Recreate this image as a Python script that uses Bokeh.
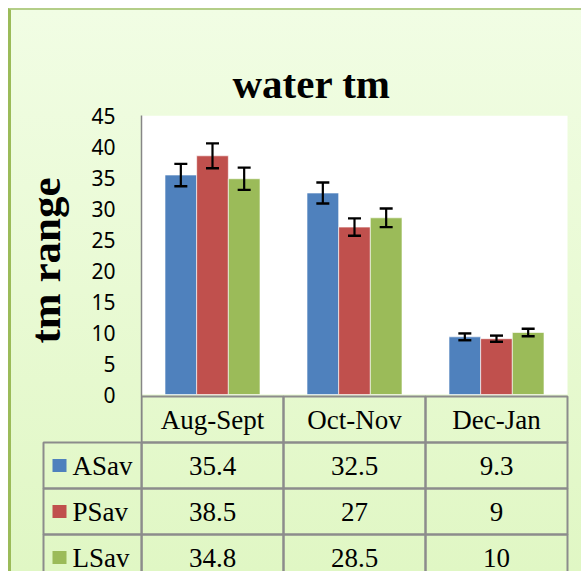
import math
from bokeh.plotting import figure
from bokeh.models import Range1d, FixedTicker, BoxAnnotation
from bokeh.layouts import column
from bokeh.embed import file_html
from bokeh.resources import INLINE
from bokeh.core.properties import value

# ---- data ----
periods = ["Aug-Sept", "Oct-Nov", "Dec-Jan"]
series = ["ASav", "PSav", "LSav"]
asav = [35.4, 32.5, 9.3]
psav = [38.5, 27, 9]
lsav = [34.8, 28.5, 10]
asav_err = [1.8, 1.7, 0.55]
psav_err = [2.0, 1.4, 0.5]
lsav_err = [1.8, 1.5, 0.6]
y_ticks = [0, 5, 10, 15, 20, 25, 30, 35, 40, 45]
colors = ["#4F81BD", "#C0504D", "#9BBB59"]
title_text = "water tm"
y_title = "tm range"

values = [asav, psav, lsav]
errors = [asav_err, psav_err, lsav_err]

SERIF = "Liberation Serif"
GRID = "#8C8C8C"

# ---- layout constants (pixels) ----
W, H = 570, 561
chart_px = 279.0      # height of the 0..45 plot area
table_px = 177.0      # visible height of the data table under it
cat_px = 142.0        # width of one category column
label_px = 98.0       # width of the series-name column
row_px = 46.0
pad_px = 2.0
y_max = y_ticks[-1]
u = y_max / chart_px  # data units per pixel (vertical)
L = label_px / cat_px

p = figure(x_range=Range1d(0, len(periods) + pad_px / cat_px),
           y_range=Range1d(-y_max * table_px / chart_px, y_max),
           width=W, height=H, output_backend="svg", toolbar_location=None,
           x_axis_location=None, min_border_left=130, min_border_right=12,
           min_border_top=105, min_border_bottom=0)
p.background_fill_alpha = 0
p.border_fill_alpha = 0
p.outline_line_color = None
p.grid.visible = False

# white plot area for the chart part
p.add_layout(BoxAnnotation(bottom=0, top=y_max, left=0, right=len(periods),
                           fill_color="white", fill_alpha=1,
                           line_color=None, level="underlay"))

p.title.text = title_text
p.title.text_font = SERIF
p.title.text_font_style = "bold"
p.title.text_font_size = "41px"
p.title.align = "left"
p.title.offset = 91
p.title.standoff = 17
p.title.text_color = "black"

ax = p.yaxis[0]
ax.ticker = FixedTicker(ticks=y_ticks)
ax.major_tick_out = 0
ax.major_tick_in = 0
ax.minor_tick_out = 0
ax.minor_tick_in = 0
ax.major_label_standoff = 26
ax.major_label_text_font = "Noto Sans"
ax.major_label_text_font_size = "21px"
ax.major_label_text_color = "black"
ax.axis_line_color = "#868686"
ax.axis_line_width = 1.5

# rotated y-axis title, placed left of the tick labels
p.text(x=[-96.0 / cat_px], y=[51.0 * u], text=[y_title], angle=math.pi / 2,
       text_align="left", text_baseline="alphabetic",
       text_font=value(SERIF), text_font_style="bold",
       text_font_size="43px", text_color="black", level="overlay")

# ---- bars + error bars ----
cx = [i + 0.5 for i in range(len(periods))]
bar_w = 0.223
offsets = [-bar_w, 0.0, bar_w]
for name, vals, errs, col, off in zip(series, values, errors, colors, offsets):
    xs = [c + off for c in cx]
    lo = [v - e for v, e in zip(vals, errs)]
    hi = [v + e for v, e in zip(vals, errs)]
    p.vbar(x=xs, top=vals, width=bar_w, fill_color=col,
           line_color="white", line_alpha=0.6, line_width=1)
    p.segment(x0=xs, y0=lo, x1=xs, y1=hi, line_color="black", line_width=2.2)
    p.scatter(x=xs, y=hi, marker="dash", size=13, line_color="black", line_width=2.4)
    p.scatter(x=xs, y=lo, marker="dash", size=13, line_color="black", line_width=2.4)

# ---- data table ----
def row_center(r):
    return -(pad_px + (r + 0.5) * row_px) * u

row_h = row_px * u
txt = dict(text_baseline="middle", text_font=value(SERIF),
           text_font_size="27px", text_color="black")

y0 = row_center(0)
p.rect(x=cx, y=[y0] * 3, width=1, height=row_h, fill_alpha=0,
       line_color=GRID, line_width=2)
p.text(x=cx, y=[y0] * 3, text=periods, text_align="center", **txt)

key_x = -L + 16.0 / cat_px
for r, (name, vals, col) in enumerate(zip(series, values, colors), start=1):
    yc = row_center(r)
    p.rect(x=cx, y=[yc] * 3, width=1, height=row_h, fill_alpha=0,
           line_color=GRID, line_width=2)
    p.text(x=cx, y=[yc] * 3, text=[f"{v:g}" for v in vals],
           text_align="center", **txt)
    # series-name column (left of the plot frame)
    p.rect(x=[-L / 2], y=[yc], width=L, height=row_h, fill_alpha=0,
           line_color=GRID, line_width=2, level="overlay")
    p.rect(x=[key_x], y=[yc], width=14, height=13, width_units="screen",
           height_units="screen", fill_color=col, line_color=None,
           level="overlay")
    p.text(x=[-L], y=[yc], text=[name], x_offset=29, text_align="left",
           level="overlay", **txt)

layout = column(p, spacing=0, margin=(8, 0, 0, 8), styles={
    "background": "linear-gradient(to bottom, #f1fde4 0%, #e9fad4 50%, #e0f7c4 100%)",
    "border-left": "3px solid #9BBB59",
    "border-top": "2px solid #B4CE88",
})

open("out.html", "w").write(file_html(layout, INLINE))
